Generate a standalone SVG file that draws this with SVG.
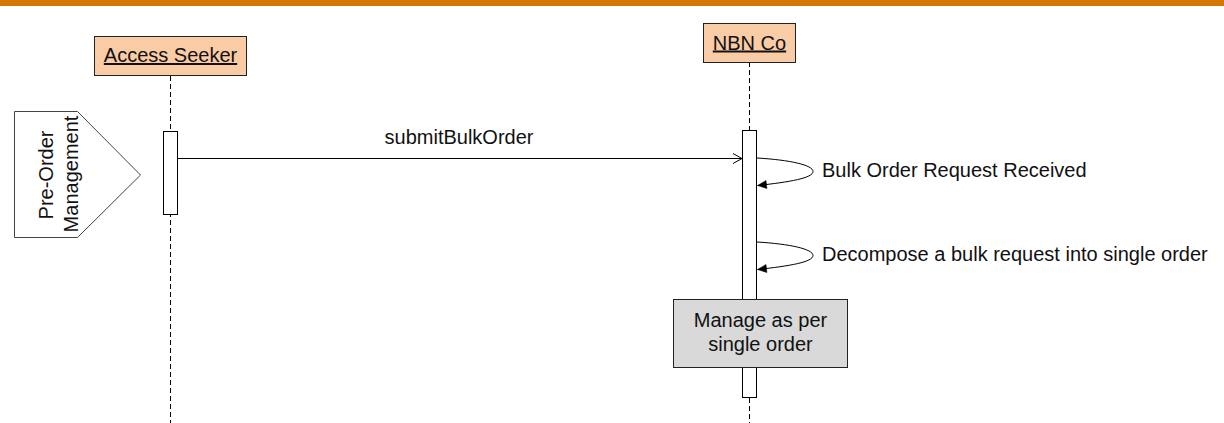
<svg xmlns="http://www.w3.org/2000/svg" width="1224" height="423" viewBox="0 0 1224 423">
<style>
text{font-family:"Liberation Sans",Arial,sans-serif;font-size:20px;fill:#111}
.life{stroke:#000;stroke-width:1;stroke-dasharray:5 3;fill:none}
.act{fill:#fff;stroke:#000;stroke-width:1}
.actor{fill:#FACCA6;stroke:#222;stroke-width:1}
.msg{stroke:#000;stroke-width:1;fill:none}
</style>
<defs>
<marker id="open" markerWidth="12" markerHeight="12" refX="10" refY="6" orient="auto" markerUnits="userSpaceOnUse">
<path d="M1,1 L10,6 L1,11" fill="none" stroke="#000" stroke-width="1"/>
</marker>
<marker id="filled" markerWidth="12" markerHeight="12" refX="10" refY="6" orient="auto" markerUnits="userSpaceOnUse">
<path d="M1,2 L10,6 L1,10 Z" fill="#000" stroke="#000" stroke-width="0.5"/>
</marker>
</defs>
<rect x="0" y="0" width="1224" height="6" fill="#D67500"/>
<g id="lifelines">
<line class="life" x1="170.5" y1="76" x2="170.5" y2="423"/>
<line class="life" x1="749.5" y1="62" x2="749.5" y2="423"/>
</g>
<g id="access-seeker">
<rect class="actor" x="94.5" y="36.5" width="152" height="39"/>
<text x="170.5" y="62" text-anchor="middle" text-decoration="underline">Access Seeker</text>
<rect class="act" x="163.5" y="131.5" width="14" height="83"/>
</g>
<g id="nbn-co">
<rect class="actor" x="703.5" y="23.5" width="92" height="39"/>
<text x="749.5" y="49.5" text-anchor="middle" text-decoration="underline">NBN Co</text>
<rect class="act" x="742.5" y="130.5" width="14" height="267"/>
</g>
<g id="pre-order-management">
<polygon points="14.5,111.5 77.5,111.5 140.5,175 77.5,237.5 14.5,237.5" fill="#fff" stroke="#444" stroke-width="1"/>
<text transform="translate(53,175) rotate(-90)" text-anchor="middle">Pre-Order</text>
<text transform="translate(78,174) rotate(-90)" text-anchor="middle">Management</text>
</g>
<g id="connectors">
<line class="msg" x1="177.5" y1="158.5" x2="742" y2="158.5" marker-end="url(#open)"/>
<text x="459" y="144" text-anchor="middle">submitBulkOrder</text>
<path class="msg" d="M757,158 C790,160 813,165 813,171.5 C813,178 790,182 757.5,185.5" marker-end="url(#filled)"/>
<text x="822" y="177">Bulk Order Request Received</text>
<path class="msg" d="M757,242 C790,244 813,249 813,255.5 C813,262 790,266 757.5,269.5" marker-end="url(#filled)"/>
<text x="822" y="261">Decompose a bulk request into single order</text>
</g>
<g id="manage-single-order">
<rect x="673.5" y="299.5" width="174" height="68" fill="#D9D9D9" stroke="#222" stroke-width="1"/>
<text x="760.5" y="327" text-anchor="middle">Manage as per</text>
<text x="760.5" y="351" text-anchor="middle">single order</text>
</g>
</svg>
